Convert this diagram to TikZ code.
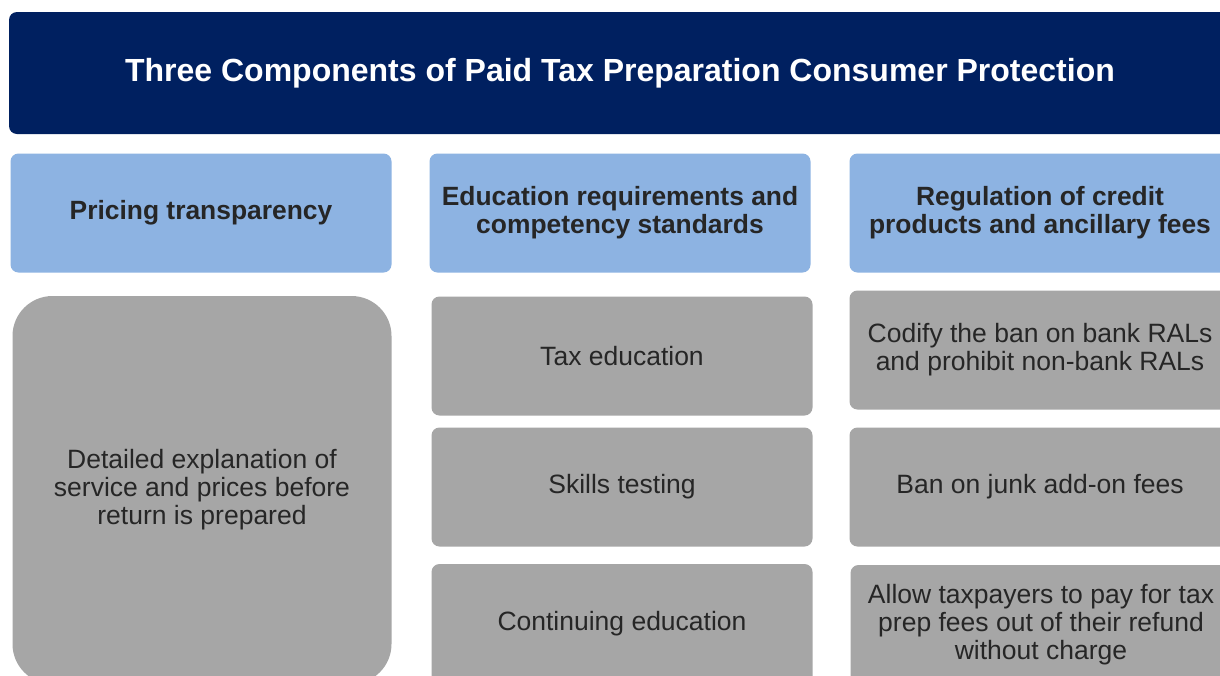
\documentclass[tikz,border=0pt]{standalone}
\usepackage{fontspec}
\setmainfont{Liberation Sans}
\usepackage{tikz}

\definecolor{navy}{RGB}{0,32,96}
\definecolor{headblue}{RGB}{141,179,226}
\definecolor{itemgray}{RGB}{166,166,166}
\definecolor{inkgray}{RGB}{38,38,38}

\tikzset{
  titlebox/.style={fill=navy,rounded corners=8pt,minimum width=1222pt,minimum height=122pt,
    text=white,font=\bfseries\fontsize{32}{36}\selectfont},
  headbox/.style={fill=headblue,rounded corners=8pt,minimum width=381pt,minimum height=119pt,
    align=center,text=inkgray,font=\bfseries\fontsize{26.4}{28}\selectfont},
  itembox/.style={fill=itemgray,rounded corners=8pt,minimum width=381pt,minimum height=119pt,
    align=center,text=inkgray,font=\fontsize{26.5}{28}\selectfont},
}

\begin{document}
\begin{tikzpicture}[x=1pt,y=-1pt]
  \useasboundingbox (0,0) rectangle (1220,675);
  \clip (0,0) rectangle (1220,675);
  \fill[white] (0,0) rectangle (1220,675);

  \node[titlebox] (title) at (620,73) {\raisebox{-2pt}{Three Components of Paid Tax Preparation Consumer Protection}};

  % column headers
  \node[headbox] (pricing) at (201,213) {Pricing transparency};
  \node[headbox] (education) at (620,213) {Education requirements and\\competency standards};
  \node[headbox] (regulation) at (1040,213) {Regulation of credit\\products and ancillary fees};

  % first column
  \node[itembox,rounded corners=40pt,minimum width=379pt,minimum height=388pt] (explain) at (202,490)
    {Detailed explanation of\\service and prices before\\return is prepared};

  % second column
  \node[itembox] (taxedu) at (622,356) {Tax education};
  \node[itembox] (skills) at (622,487) {Skills testing};
  \node[itembox,minimum height=120pt] (contedu) at (622,624) {Continuing education};

  % third column
  \node[itembox] (ralban) at (1040,350) {Codify the ban on bank RALs\\and prohibit non-bank RALs};
  \node[itembox] (junkfees) at (1040,487) {Ban on junk add-on fees};
  \node[itembox,minimum height=120pt] (payfees) at (1041,625)
    {Allow taxpayers to pay for tax\\prep fees out of their refund\\without charge};
\end{tikzpicture}
\end{document}
